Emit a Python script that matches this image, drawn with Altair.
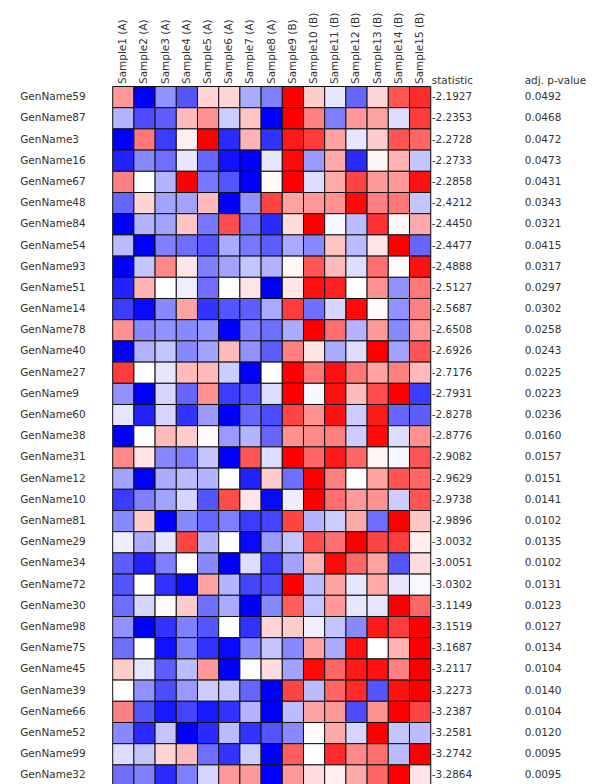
import altair as alt
import pandas as pd

genes = ["GenName59", "GenName87", "GenName3", "GenName16", "GenName67", "GenName48",
         "GenName84", "GenName54", "GenName93", "GenName51", "GenName14", "GenName78",
         "GenName40", "GenName27", "GenName9", "GenName60", "GenName38", "GenName31",
         "GenName12", "GenName10", "GenName81", "GenName29", "GenName34", "GenName72",
         "GenName30", "GenName98", "GenName75", "GenName45", "GenName39", "GenName66",
         "GenName52", "GenName99", "GenName32"]

samples = ["Sample1 (A)", "Sample2 (A)", "Sample3 (A)", "Sample4 (A)", "Sample5 (A)",
           "Sample6 (A)", "Sample7 (A)", "Sample8 (A)", "Sample9 (B)", "Sample10 (B)",
           "Sample11 (B)", "Sample12 (B)", "Sample13 (B)", "Sample14 (B)", "Sample15 (B)"]

statistic = [-2.1927, -2.2353, -2.2728, -2.2733, -2.2858, -2.4212, -2.4450, -2.4477,
             -2.4888, -2.5127, -2.5687, -2.6508, -2.6926, -2.7176, -2.7931, -2.8278,
             -2.8776, -2.9082, -2.9629, -2.9738, -2.9896, -3.0032, -3.0051, -3.0302,
             -3.1149, -3.1519, -3.1687, -3.2117, -3.2273, -3.2387, -3.2581, -3.2742,
             -3.2864]

adj_pvalue = [0.0492, 0.0468, 0.0472, 0.0473, 0.0431, 0.0343, 0.0321, 0.0415,
              0.0317, 0.0297, 0.0302, 0.0258, 0.0243, 0.0225, 0.0223, 0.0236,
              0.0160, 0.0157, 0.0151, 0.0141, 0.0102, 0.0135, 0.0102, 0.0131,
              0.0123, 0.0127, 0.0134, 0.0104, 0.0140, 0.0104, 0.0120, 0.0095,
              0.0095]

# one row per gene, one value per sample (scaled expression)
expr = [
    [1.2, -3, -1.3, -2, 0.5, 0.5, -1, -1.5, 3, 0.6, -0.3, -1.8, 0.5, 2, 2.5],
    [-0.9, -2.1, -1.9, 0.8, 1.3, -0.6, 0.7, -3, 3, 1.5, -1.5, 1.2, 1.1, -0.4, 2.3],
    [-3, 1.6, -2.3, 0.2, 3, -2.5, 0.9, -2.4, 2.7, 2.3, 1.1, -0.3, 0.6, 2, 1.8],
    [-2.6, -1.4, -1.7, -0.3, -1.8, -2.8, -3, -0.3, 2.9, -1.2, 1.0, -2.5, 0.1, 0.9, -0.7],
    [1.5, 0, -0.9, 3, -1.6, -2, -3, 0.05, 3, -0.4, 1.0, 2.2, 1.2, 1.2, 2.8],
    [-1.8, 0.5, -1.1, -1.1, 0.8, -3, -1.3, 2.2, 1.1, 1.2, 1.3, 2.9, 1.5, 1.6, -0.7],
    [-3, -0.9, -1.1, 0.7, -1.6, 2.1, -1.7, -2.5, 0.4, 3, -0.1, -0.8, 2.4, 0.1, 1.0],
    [-0.8, -3, -1.5, -1.7, -2.0, -1.0, -1.6, -1.9, -1.0, -1.4, 0.7, -0.8, 0.3, 3, -1.8],
    [-3, -0.7, 1.4, 0.3, -1.5, -1.1, -0.7, -0.9, 0.1, 2.0, 0.8, -0.4, 1.7, 0.05, 2.8],
    [-2.6, 0.9, 0, -0.2, -1.7, 0, 0.3, -3, 0.3, 2.8, 2.6, 0, 1.3, -1.3, 1.6],
    [-2.3, -2.9, -1.4, 1.1, -2.4, -2.0, -1.9, -1.0, 2.3, -1.7, -0.5, 2.9, 0.05, -1.3, 1.5],
    [1.3, -1.4, -1.3, -1.4, -1.3, -3, -1.5, -1.7, -1.0, 3, 1.7, -0.9, 1.2, -1.4, 1.2],
    [-3, -0.9, -0.7, -1.4, -1.1, 0.8, -1.3, -1.9, 1.5, 0.3, -1.0, -0.4, 3, -1.1, 2.0],
    [2.3, 0, -0.3, 0.8, 0.8, -0.6, -3, 0, 3, 1.6, 2.8, 1.6, 1.1, 1.5, 0.8],
    [-1.3, -3, -0.5, -1.8, 1.3, -2.3, -2.0, -0.4, 3, -0.1, 2.8, 0.8, 2.1, 3, -2.3],
    [-0.3, -2.6, -0.5, -2.4, -1.2, -3, -1.8, -2.1, 2.2, 1.3, 2.8, -0.6, 2.7, -1.8, -1.9],
    [-3, 0, 0.8, 0.6, 0.05, -1.2, -0.9, -1.8, 1.3, 1.4, 1.5, -0.6, 2.9, -0.4, 1.3],
    [1.4, 0.3, -1.4, -1.5, -0.7, -3, 2.0, -0.4, 3, 1.8, 2.7, 1.8, 0.1, -0.1, 2.0],
    [-1.1, -3, -1.0, -0.8, -0.9, 0, -2.6, 0.6, -1.7, 3, 1.5, 0, 1.1, 2.0, 1.8],
    [-2.3, -1.5, -1.1, -0.5, -2.0, 2.1, 0.3, -2.9, -0.2, 3, 1.7, 1.2, 1.3, -0.6, 2.0],
    [-1.4, 0.6, -3, -1.4, -1.8, -1.5, -2.3, -2.2, 2.2, -0.9, -0.6, 1.0, -1.7, 3, 0.7],
    [-0.2, -1.0, -0.3, 2.2, -0.9, 0, -2.9, -1.2, -0.7, 2.1, 1.7, 3, 2.2, 2.3, 0.2],
    [-1.9, -2.6, -1.5, 0, -1.4, -3, -0.4, -2.3, -1.1, 0.9, 2.9, 1.8, 1.1, -2.0, 0.4],
    [-2.0, 0, -2.4, -2.9, 1.1, -0.9, -2.2, -2.1, 3, -0.8, 1.1, -0.3, 1.0, -0.3, -0.1],
    [-1.7, -0.5, 0.05, 0.6, -1.7, -1.0, -3, -1.4, 1.9, -0.7, 1.2, -0.3, -0.3, 3, 1.8],
    [-1.3, -3, -2.4, -1.5, -2.0, 0, -2.4, 0.5, 0.6, -0.2, -0.7, -1.4, 2.7, 2.3, 3],
    [-1.7, 0, -2.8, -1.5, -2.4, -2.9, -1.4, -0.7, -1.4, 1.1, -1.0, 2.8, 0, 0.9, 3],
    [0.6, -0.3, -1.9, -0.8, 1.2, -3, 0, 0.4, -1.1, 2.9, 1.8, 2.7, 2.8, 1.5, 3],
    [0, -1.3, -2.1, -1.2, -0.6, -0.7, -1.8, -3, 2.2, -0.8, 1.8, 2.5, -2.0, 2.8, 3],
    [1.5, -2.0, -2.7, -2.2, -2.7, -2.4, -0.9, -3, -0.8, 1.1, 1.2, -2.1, 1.3, 3, 2.2],
    [-1.4, -2.5, -0.7, -3, -2.5, -0.8, -2.4, -2.0, -1.4, 0.05, 1.0, -0.5, 3, -0.7, -0.8],
    [-0.4, -0.7, 0.5, 0.8, -1.7, -2.4, -0.6, -3, 1.9, 0, 2.5, 1.4, 1.7, -0.8, 3],
    [-1.7, -1.5, -2.5, -1.5, -0.5, 1.2, 1.2, -3, 1.2, 0.4, 0.2, 1.0, 1.8, 3, 0.3],
]

records = []
for g, vals in zip(genes, expr):
    for s, v in zip(samples, vals):
        records.append({"gene": g, "sample": s, "value": v})
df = pd.DataFrame(records)
stats_df = pd.DataFrame({
    "gene": genes,
    "stat_txt": [f"{v:.4f}" for v in statistic],
    "p_txt": [f"{v:.4f}" for v in adj_pvalue],
})

CELL = 21.2
W = CELL * len(samples)
H = CELL * len(genes)
FONT = "DejaVu Sans"
FS = 10.5
TXT = "#333333"

y_enc = alt.Y("gene:N", sort=genes,
              axis=alt.Axis(title=None, ticks=False, domain=False, labelAlign="left",
                            labelPadding=93, labelFont=FONT, labelFontSize=FS,
                            labelColor=TXT))

heat = alt.Chart(df).mark_rect(stroke="#111111", strokeWidth=1).encode(
    x=alt.X("sample:N", sort=samples,
            axis=alt.Axis(orient="top", title=None, labelAngle=270, labelAlign="left",
                          labelBaseline="middle", labelPadding=3, ticks=False,
                          domain=False, labelFont=FONT, labelFontSize=FS,
                          labelColor=TXT)),
    y=y_enc,
    color=alt.Color("value:Q", legend=None,
                    scale=alt.Scale(domain=[-3, 0, 3],
                                    range=["#0000ff", "#ffffff", "#ff0000"],
                                    interpolate="rgb", clamp=True)),
)

stat_text = alt.Chart(stats_df).mark_text(
    align="left", baseline="middle", font=FONT, fontSize=FS, color=TXT
).encode(
    x=alt.value(W + 1),
    y=alt.Y("gene:N", sort=genes),
    text="stat_txt:N",
)

p_text = alt.Chart(stats_df).mark_text(
    align="left", baseline="middle", font=FONT, fontSize=FS, color=TXT
).encode(
    x=alt.value(W + 94),
    y=alt.Y("gene:N", sort=genes),
    text="p_txt:N",
)

hdr_stat = alt.Chart(pd.DataFrame({"t": ["statistic"]})).mark_text(
    align="left", baseline="middle", font=FONT, fontSize=FS, color=TXT
).encode(x=alt.value(W + 1), y=alt.value(-6), text="t:N")

hdr_p = alt.Chart(pd.DataFrame({"t": ["adj. p-value"]})).mark_text(
    align="left", baseline="middle", font=FONT, fontSize=FS, color=TXT
).encode(x=alt.value(W + 94), y=alt.value(-6), text="t:N")

chart = alt.layer(heat, stat_text, p_text, hdr_stat, hdr_p).properties(
    width=W, height=H,
    autosize=alt.AutoSizeParams(type="none"),
    padding={"left": 104.7, "top": 78.5, "right": 160, "bottom": 5},
).configure_view(strokeWidth=0).configure(background="white")

chart.save("out.html", embed_options={"renderer": "svg", "actions": False})
